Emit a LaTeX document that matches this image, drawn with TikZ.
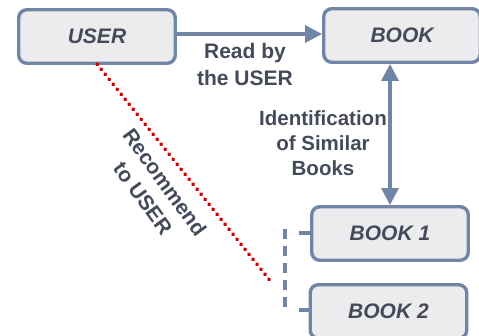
\documentclass[tikz,border=0pt]{standalone}
\usepackage{fontspec}
\setmainfont{Liberation Sans}
\usetikzlibrary{arrows.meta}
\definecolor{edge}{HTML}{7186A6}
\definecolor{boxfill}{HTML}{ECECEE}
\definecolor{txt}{HTML}{454A5A}
\definecolor{redline}{HTML}{D00000}
\begin{document}
\begin{tikzpicture}[x=1pt,y=-1pt,
  entity/.style={draw=edge, line width=3.4pt, fill=boxfill, rounded corners=8pt,
    minimum width=156.5pt, minimum height=53.5pt, inner sep=0pt,
    font=\fontsize{21}{25}\selectfont\bfseries\itshape, text=txt},
  lbl/.style={font=\fontsize{20.5}{26}\selectfont\bfseries, text=txt, align=center, inner sep=0pt},
  conn/.style={draw=edge, line width=3.4pt},
  tipx/.style={-{Triangle[length=17pt,width=17pt]}}]
\useasboundingbox (0,0) rectangle (479,335);
\node[entity] (user) at (97,36.5) {USER};
\node[entity] (book) at (402,35.5) {BOOK};
\node[entity] (b1) at (390,233.5) {BOOK 1};
\node[entity] (b2) at (388.5,311.5) {BOOK 2};
\coordinate (a1) at (0,34);
\draw[conn, tipx] (user.east |- a1) -- (book.west |- a1);
\node[lbl, font=\fontsize{21}{27}\selectfont\bfseries] (read) at (245,64) {Read by\\the USER};
\coordinate (a2) at (390,0);
\draw[conn, {Triangle[length=17pt,width=17pt]}-{Triangle[length=17pt,width=17pt]}] (book.south -| a2) -- (b1.north -| a2);
\node[lbl, font=\fontsize{20.5}{25}\selectfont\bfseries] (ident) at (323,143) {Identification\\of Similar\\Books};
\coordinate (rs) at (97,64);
\coordinate (re) at (272,283);
\draw[redline, line width=3.6pt, line cap=round, dash pattern=on 0.8pt off 5.6pt] (rs) -- (re);
\node[lbl, rotate=-54, font=\fontsize{21}{27}\selectfont\bfseries] (rec) at (154,190) {Recommend\\to USER};
\coordinate (t1) at (299,233);
\coordinate (t2) at (299,310);
\draw[conn] (b1.west |- t1) -- (t1);
\draw[conn] (b2.west |- t2) -- (t2);
\coordinate (d1) at (285,229);
\coordinate (d2) at (285,312);
\draw[conn, dash pattern=on 10pt off 7pt] (d1) -- (d2);
\end{tikzpicture}
\end{document}
